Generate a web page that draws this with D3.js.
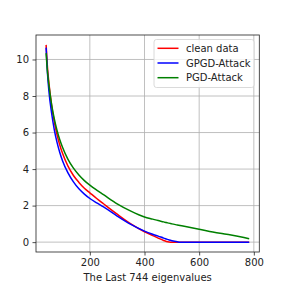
<!DOCTYPE html>
<html>
<head>
<meta charset="utf-8">
<script src="https://cdn.jsdelivr.net/npm/d3@7"></script>
<style>
  body { margin: 0; background: #fff; }
  text { font-family: "DejaVu Sans", sans-serif; }
</style>
</head>
<body>
<div id="chart"></div>
<script>
// eigenvalue index positions
const xs = [40, 45, 50, 60, 70, 80, 90, 100, 120, 140, 160, 180, 200, 225, 250, 300, 350, 400, 430, 450, 470, 480, 490, 500, 520, 530, 550, 600, 650, 700, 750, 783];
const cleanData = [10.8, 9.56, 8.75, 7.5, 6.58, 5.87, 5.32, 4.86, 4.16, 3.65, 3.27, 2.95, 2.7, 2.39, 2.1, 1.53, 1.0, 0.57, 0.36, 0.22, 0.09, 0.04, 0.01, 0, 0, 0, 0, 0, 0, 0, 0, 0];
const gpgdAttack = [10.65, 9.25, 8.3, 7.07, 6.15, 5.46, 4.91, 4.46, 3.79, 3.3, 2.92, 2.63, 2.39, 2.15, 1.93, 1.43, 0.97, 0.6, 0.43, 0.33, 0.22, 0.17, 0.12, 0.08, 0.02, 0, 0, 0, 0, 0, 0, 0];
const pgdAttack = [10.35, 9.32, 8.62, 7.54, 6.74, 6.11, 5.6, 5.19, 4.53, 4.05, 3.68, 3.37, 3.12, 2.85, 2.6, 2.1, 1.7, 1.38, 1.26, 1.18, 1.11, 1.07, 1.04, 1.0, 0.94, 0.91, 0.85, 0.71, 0.56, 0.43, 0.3, 0.19];
const seriesNames = ["clean data", "GPGD-Attack", "PGD-Attack"];
const seriesColors = ["red", "blue", "green"];
const xTicks = [200, 400, 600, 800];
const yTicks = [0, 2, 4, 6, 8, 10];

const width = 288, height = 288;
const margin = { left: 36, right: 28.7, top: 35, bottom: 36 };

const svg = d3.select("#chart").append("svg")
    .attr("width", width)
    .attr("height", height);

const x = d3.scaleLinear().domain([3, 820]).range([margin.left, width - margin.right]);
const y = d3.scaleLinear().domain([-0.54, 11.34]).range([height - margin.bottom, margin.top]);

// grid
svg.append("g").selectAll("line").data(xTicks).enter().append("line")
    .attr("x1", d => x(d)).attr("x2", d => x(d))
    .attr("y1", margin.top).attr("y2", height - margin.bottom)
    .attr("stroke", "#b0b0b0").attr("stroke-width", 0.8);
svg.append("g").selectAll("line").data(yTicks).enter().append("line")
    .attr("y1", d => y(d)).attr("y2", d => y(d))
    .attr("x1", margin.left).attr("x2", width - margin.right)
    .attr("stroke", "#b0b0b0").attr("stroke-width", 0.8);

// axes
const xAxis = svg.append("g")
    .attr("transform", `translate(0,${height - margin.bottom})`)
    .call(d3.axisBottom(x).tickValues(xTicks).tickSize(3.5).tickPadding(3.5));
const yAxis = svg.append("g")
    .attr("transform", `translate(${margin.left},0)`)
    .call(d3.axisLeft(y).tickValues(yTicks).tickSize(3.5).tickPadding(3.5));
[xAxis, yAxis].forEach(a => {
    a.select(".domain").remove();
    a.selectAll("text").attr("font-size", 10).attr("fill", "#222").attr("font-family", "DejaVu Sans");
    a.selectAll("line").attr("stroke", "#222").attr("stroke-width", 0.8);
});

// lines
const allSeries = [cleanData, gpgdAttack, pgdAttack];
const line = d3.line()
    .x((d, i) => x(xs[i]))
    .y(d => y(d))
    .curve(d3.curveMonotoneX);
allSeries.forEach((s, k) => {
    svg.append("path")
        .datum(s)
        .attr("d", line)
        .attr("fill", "none")
        .attr("stroke", seriesColors[k])
        .attr("stroke-width", 1.5);
});

// frame
svg.append("rect")
    .attr("x", margin.left).attr("y", margin.top)
    .attr("width", width - margin.left - margin.right)
    .attr("height", height - margin.top - margin.bottom)
    .attr("fill", "none").attr("stroke", "#222").attr("stroke-width", 0.8);

// x label
svg.append("text")
    .attr("x", (x.range()[0] + x.range()[1]) / 2)
    .attr("y", 281)
    .attr("text-anchor", "middle")
    .attr("font-size", 10)
    .attr("fill", "#222")
    .text("The Last 744 eigenvalues");

// legend
const legend = svg.append("g");
legend.append("rect")
    .attr("x", 154).attr("y", 39.5)
    .attr("width", 100).attr("height", 48)
    .attr("rx", 2.5)
    .attr("fill", "white").attr("fill-opacity", 0.8)
    .attr("stroke", "#d0d0d0").attr("stroke-width", 0.8);
seriesNames.forEach((name, k) => {
    const ly = 48.3 + k * 14.7;
    legend.append("line")
        .attr("x1", 157.5).attr("x2", 178.5)
        .attr("y1", ly).attr("y2", ly)
        .attr("stroke", seriesColors[k]).attr("stroke-width", 1.5);
    legend.append("text")
        .attr("x", 186).attr("y", ly + 3.5)
        .attr("font-size", 10)
        .attr("fill", "#222")
        .text(name);
});
</script>
</body>
</html>
